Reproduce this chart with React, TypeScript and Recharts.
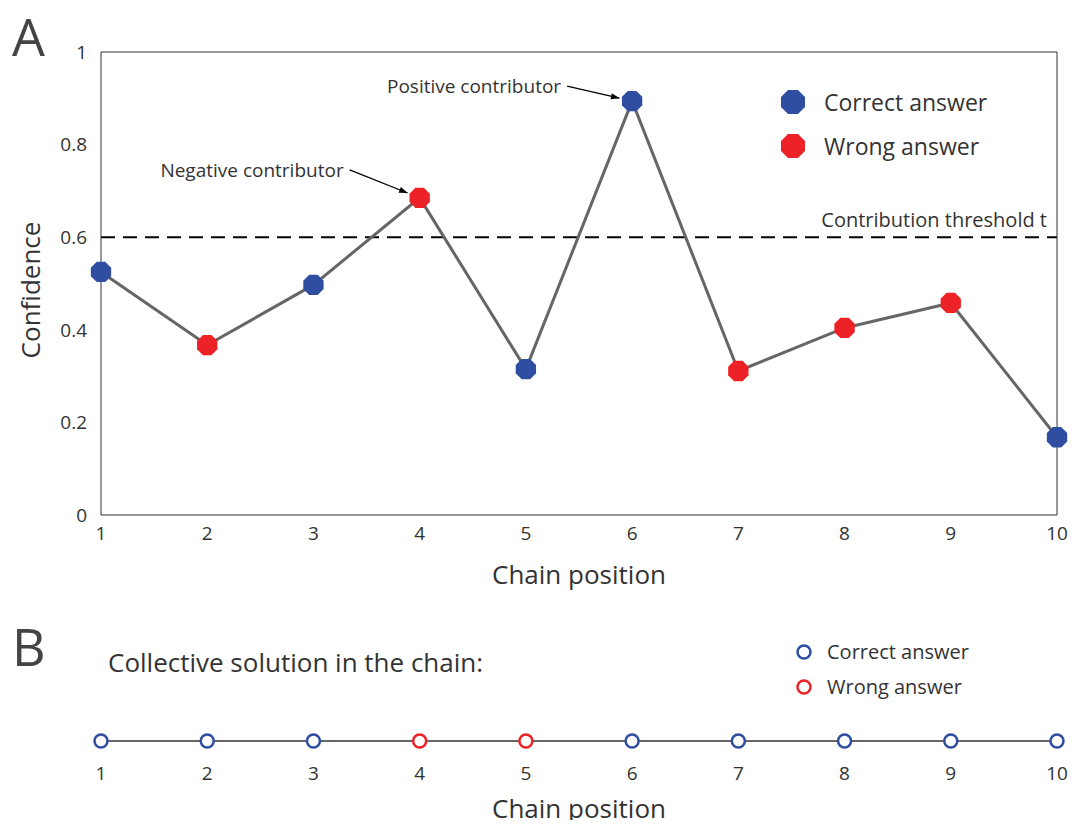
import { LineChart, Line, XAxis, YAxis, ReferenceLine, ReferenceDot } from "recharts";

const positions = [1, 2, 3, 4, 5, 6, 7, 8, 9, 10];
const confidence = [0.525, 0.367, 0.497, 0.685, 0.315, 0.894, 0.311, 0.404, 0.458, 0.168];
const correctA = [true, false, true, false, true, true, false, false, false, true];
const correctB = [true, true, true, false, false, true, true, true, true, true];
const yTicks = [0, 0.2, 0.4, 0.6, 0.8, 1];
const threshold = 0.6;

const BLUE = "#2f4ea2";
const RED = "#ec2227";
const FONT = "'Open Sans', sans-serif";
const INK = "#333";

const dataA = positions.map((p, i) => ({ pos: p, conf: confidence[i], ok: correctA[i] }));
const dataB = positions.map((p, i) => ({ pos: p, v: 0, ok: correctB[i] }));

function Octagon({ cx, cy, payload }: any) {
  const r = 11;
  const pts = Array.from({ length: 8 }, (_, k) => {
    const a = (Math.PI / 8) * (2 * k + 1);
    return `${cx + r * Math.cos(a)},${cy + r * Math.sin(a)}`;
  }).join(" ");
  return <polygon points={pts} fill={payload.ok ? BLUE : RED} />;
}

function Ring({ cx, cy, payload }: any) {
  return <circle cx={cx} cy={cy} r={6.5} fill="white" stroke={payload.ok ? BLUE : RED} strokeWidth={2.5} />;
}

function Callout({ text, dx, dy }: { text: string; dx: number; dy: number }) {
  return (props: any) => {
    const { cx, cy } = props;
    const tx = cx + dx;
    const ty = cy + dy;
    const base = Math.atan2(cy - ty, cx - tx);
    const ex = cx - 13 * Math.cos(base);
    const ey = cy - 13 * Math.sin(base);
    const a = Math.atan2(ey - ty, ex - tx);
    const h = 9;
    return (
      <g>
        <line x1={tx} y1={ty} x2={ex} y2={ey} stroke="black" strokeWidth={1.3} />
        <polygon
          points={`${ex},${ey} ${ex - h * Math.cos(a - 0.35)},${ey - h * Math.sin(a - 0.35)} ${ex - h * Math.cos(a + 0.35)},${ey - h * Math.sin(a + 0.35)}`}
          fill="black"
        />
        <text x={tx - 6} y={ty} textAnchor="end" dominantBaseline="central" fontSize={19} fill={INK} fontFamily={FONT}>
          {text}
        </text>
      </g>
    );
  };
}

function LegendA() {
  const items = [
    { label: "Correct answer", color: BLUE },
    { label: "Wrong answer", color: RED },
  ];
  return (
    <div style={{ position: "absolute", left: 780, top: 80, fontFamily: FONT, fontSize: 23, color: INK }}>
      {items.map((it) => (
        <div key={it.label} style={{ display: "flex", alignItems: "center", height: 44 }}>
          <svg width={26} height={26} style={{ marginRight: 18 }}>
            <polygon points="8,1 18,1 25,8 25,18 18,25 8,25 1,18 1,8" fill={it.color} />
          </svg>
          {it.label}
        </div>
      ))}
    </div>
  );
}

function LegendB() {
  const items = [
    { label: "Correct answer", color: BLUE },
    { label: "Wrong answer", color: RED },
  ];
  return (
    <div style={{ position: "absolute", left: 795, top: 34, fontFamily: FONT, fontSize: 20, color: INK }}>
      {items.map((it) => (
        <div key={it.label} style={{ display: "flex", alignItems: "center", height: 35 }}>
          <svg width={18} height={18} style={{ marginRight: 14 }}>
            <circle cx={9} cy={9} r={6.5} fill="white" stroke={it.color} strokeWidth={2.5} />
          </svg>
          {it.label}
        </div>
      ))}
    </div>
  );
}

const tickStyle = { fontSize: 19, fill: INK, fontFamily: FONT };

export default function App() {
  return (
    <div style={{ position: "relative", width: 1077, height: 828, margin: -8, background: "white", fontFamily: FONT }}>
      <div style={{ position: "absolute", left: 12, top: 0, fontSize: 52, color: "#444" }}>A</div>
      <div
        style={{
          position: "absolute",
          left: 30,
          top: 290,
          transform: "translate(-50%,-50%) rotate(-90deg)",
          fontSize: 26,
          color: INK,
          whiteSpace: "nowrap",
        }}
      >
        Confidence
      </div>
      <div style={{ position: "absolute", left: 0, width: 1158, top: 556, textAlign: "center", fontSize: 26, color: INK }}>
        Chain position
      </div>
      <div style={{ position: "absolute", top: 0, left: 0 }}>
        <LineChart width={1077} height={600} data={dataA} margin={{ top: 51, right: 19, bottom: 45, left: 41 }}>
          <XAxis dataKey="pos" type="number" domain={[1, 10]} ticks={positions} tick={tickStyle} stroke={INK} tickSize={0} tickMargin={12} height={40} />
          <XAxis xAxisId="top" orientation="top" dataKey="pos" type="number" domain={[1, 10]} ticks={positions} tick={false} stroke={INK} tickSize={0} height={1} />
          <YAxis domain={[0, 1]} ticks={yTicks} tick={tickStyle} stroke={INK} tickSize={0} tickMargin={14} width={60} tickFormatter={(v) => String(v)} />
          <YAxis yAxisId="right" orientation="right" domain={[0, 1]} ticks={yTicks} tick={false} stroke={INK} tickSize={0} width={1} />
          <ReferenceLine
            y={threshold}
            stroke="black"
            strokeWidth={2}
            strokeDasharray="14 8"
            label={{ value: "Contribution threshold t", position: "insideBottomRight", fontSize: 20, fill: INK, fontFamily: FONT, offset: 10 }}
          />
          <Line dataKey="conf" stroke="#666" strokeWidth={3} dot={<Octagon />} isAnimationActive={false} />
          <ReferenceDot x={4} y={confidence[3]} r={0} shape={Callout({ text: "Negative contributor", dx: -70, dy: -28 })} />
          <ReferenceDot x={6} y={confidence[5]} r={0} shape={Callout({ text: "Positive contributor", dx: -65, dy: -15 })} />
        </LineChart>
        <LegendA />
      </div>
      <div style={{ position: "absolute", top: 600, left: 0 }}>
        <div style={{ position: "absolute", left: 12, top: 10, fontSize: 52, color: "#444" }}>B</div>
        <div style={{ position: "absolute", left: 108, top: 44, fontSize: 26, color: INK }}>Collective solution in the chain:</div>
        <div style={{ position: "absolute", left: 0, width: 1158, top: 190, textAlign: "center", fontSize: 26, color: INK }}>
          Chain position
        </div>
        <LegendB />
        <LineChart width={1077} height={228} data={dataB} margin={{ top: 123, right: 20, bottom: 39, left: 101 }}>
          <XAxis dataKey="pos" type="number" domain={[1, 10]} ticks={positions} tick={tickStyle} axisLine={false} tickLine={false} tickMargin={2} height={30} />
          <YAxis domain={[-1, 1]} hide />
          <Line dataKey="v" stroke={INK} strokeWidth={1.5} dot={<Ring />} isAnimationActive={false} />
        </LineChart>
      </div>
    </div>
  );
}
